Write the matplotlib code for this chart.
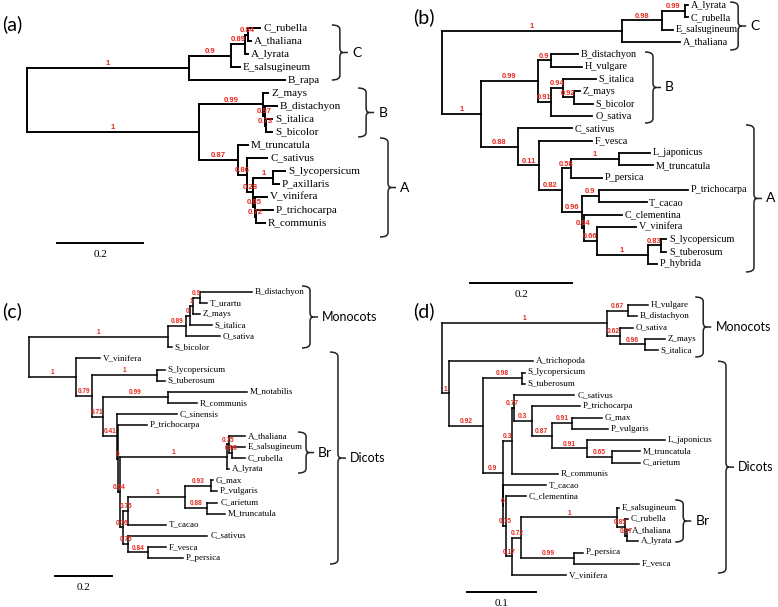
import matplotlib
matplotlib.use("Agg")
import matplotlib.pyplot as plt
from matplotlib.path import Path
from matplotlib.patches import PathPatch

W, H = 778, 607
RED = "#e8281e"

# trees: newick with support values on inner nodes
tree_a = ("(((((C_rubella:0.028,A_thaliana:0.007)0.84:0.007,A_lyrata:0.007)0.89:0.033,"
          "E_salsugineum:0.021)0.9:0.098,B_rapa:0.223)1:0.377,"
          "((Z_mays:0.012,(B_distachyon:0.028,(S_italica:0.014,S_bicolor:0.014)0.73:0.002)0.97:0.005)0.99:0.149,"
          "(M_truncatula:0.023,(C_sativus:0.047,((S_lycopersicum:0.028,P_axillaris:0.012)1:0.047,"
          "(V_vinifera:0.028,(P_trichocarpa:0.04,R_communis:0.021)0.72:0.002)0.85:0.005)0.28:0.014)0.86:0.021)0.87:0.091)1:0.4);")

tree_b = ("((((A_lyrata:0.006,C_rubella:0.006)0.99:0.045,E_salsugineum:0.022)0.98:0.078,A_thaliana:0.114)1:0.353,"
          "(((B_distachyon:0.053,H_vulgare:0.061)0.9:0.025,((S_italica:0.065,(Z_mays:0.012,S_bicolor:0.037)0.92:0.022)0.94:0.024,"
          "O_sativa:0.082)0.91:0.025)0.99:0.112,"
          "(C_sativus:0.106,(F_vesca:0.104,(((L_japonicus:0.061,M_truncatula:0.067)1:0.094,P_persica:0.061)0.58:0.018,"
          "((P_trichocarpa:0.175,T_cacao:0.094)0.9:0.033,(C_clementina:0.075,(V_vinifera:0.078,"
          "((S_lycopersicum:0.01,S_tuberosum:0.01)0.83:0.027,P_hybrida:0.018)1:0.1)0.66:0.025)0.84:0.004)0.96:0.039)0.82:0.045)"
          "0.11:0.041)0.88:0.073)1:0.076);")

tree_c = ("((((((B_distachyon:0.182,T_urartu:0.025)0.9:0.025,Z_mays:0.025)1:0.011,S_italica:0.077)0:0.014,"
          "O_sativa:0.119)0.89:0.063,S_bicolor:0.014)1:0.488,"
          "(V_vinifera:0.084,((S_lycopersicum:0.028,S_tuberosum:0.028)1:0.228,((M_notabilis:0.277,R_communis:0.102)0.99:0.228,"
          "(C_sinensis:0.211,(P_trichocarpa:0.102,(((A_thaliana:0.056,(E_salsugineum:0.046,C_rubella:0.046)0.98:0.011)0.75:0.007,"
          "A_lyrata:0.007)1:0.375,((((G_max:0.007,P_vulgaris:0.021)0.93:0.088,(C_arietum:0.035,M_truncatula:0.063)0.88:0.077)1:0.2,"
          "T_cacao:0.133)0.75:0.018,(C_sativus:0.277,(F_vesca:0.063,P_persica:0.126)0.84:0.067)0.75:0.018)0.76:0.011)0.64:0.007)"
          "0:0.004)0.41:0.049)0.71:0.039)0.79:0.056)1:0.165);")

tree_d = ("(((H_vulgare:0.029,B_distachyon:0.014)0.67:0.030,(O_sativa:0.019,(Z_mays:0.029,S_italica:0.019)0.96:0.036)0.62:0.019)1:0.239,"
          "(A_trichopoda:0.122,((S_lycopersicum:0.004,S_tuberosum:0.004)0.98:0.057,"
          "(((C_sativus:0.088,(P_trichocarpa:0.070,((G_max:0.043,P_vulgaris:0.051)0.91:0.030,"
          "(L_japonicus:0.113,(M_truncatula:0.041,C_arietum:0.041)0.65:0.036)0.91:0.051)0.87:0.029)0.3:0.026)0.77:0.003,"
          "R_communis:0.067)0.3:0.013,"
          "(T_cacao:0.062,(C_clementina:0.029,(((E_salsugineum:0.003,(C_rubella:0.004,(A_thaliana:0.003,A_lyrata:0.016)0.97:0.003)0.85:0.012)1:0.138,"
          "(P_persica:0.012,F_vesca:0.094)0.99:0.077)0.72:0.013,V_vinifera:0.078)0.17:0.009)0.75:0.004)0:0.001)0.9:0.029)0.92:0.049)1:0.010);")

# clade brackets: label, first leaf, last leaf, pad above, pad below
groups_a = [("C", "C_rubella", "B_rapa", 0.23, 0.0),
            ("B", "Z_mays", "S_bicolor", 0.38, 0.38),
            ("A", "M_truncatula", "R_communis", 0.54, 1.08)]
groups_b = [("C", "A_lyrata", "A_thaliana", 0.24, 0.65),
            ("B", "B_distachyon", "O_sativa", 0.19, 0.57),
            ("A", "C_sativus", "P_hybrida", 0.27, 0.65)]
groups_c = [("Monocots", "B_distachyon", "S_bicolor", 0.54, 0.05),
            ("Br", "A_thaliana", "A_lyrata", 0.36, 0.34),
            ("Dicots", "V_vinifera", "P_persica", 0.58, 0.55)]
groups_d = [("Monocots", "H_vulgare", "S_italica", 0.71, 0.62),
            ("Dicots", "A_trichopoda", "V_vinifera", 0.0, -0.18),
            ("Br", "E_salsugineum", "A_lyrata", 0.67, 0.07)]


def parse_newick(s):
    s = s.strip().rstrip(";")
    pos = 0

    def node():
        nonlocal pos
        n = {"children": [], "name": "", "support": "", "length": 0.0}
        if s[pos] == "(":
            pos += 1
            while True:
                n["children"].append(node())
                if s[pos] == ",":
                    pos += 1
                    continue
                pos += 1
                break
        start = pos
        while pos < len(s) and s[pos] not in ",():":
            pos += 1
        label = s[start:pos]
        if n["children"]:
            n["support"] = label
        else:
            n["name"] = label
        if pos < len(s) and s[pos] == ":":
            pos += 1
            start = pos
            while pos < len(s) and s[pos] not in ",()":
                pos += 1
            n["length"] = float(s[start:pos])
        return n
    return node()


def layout(n, x0, leaves):
    n["x"] = x0 + n["length"]
    if not n["children"]:
        n["y"] = len(leaves)
        leaves.append(n)
        return
    for c in n["children"]:
        layout(c, n["x"], leaves)
    n["y"] = (n["children"][0]["y"] + n["children"][-1]["y"]) / 2


def draw_tree(ax, n, lw, fs_leaf, fs_sup):
    if not n["children"]:
        ax.annotate(n["name"], (n["x"], n["y"]), xytext=(2, 0), textcoords="offset points",
                    ha="left", va="center", fontsize=fs_leaf, family="Liberation Serif")
        return
    ys = [c["y"] for c in n["children"]]
    ax.plot([n["x"], n["x"]], [min(ys), max(ys)], color="black", lw=lw, solid_capstyle="projecting")
    for c in n["children"]:
        ax.plot([n["x"], c["x"]], [c["y"], c["y"]], color="black", lw=lw, solid_capstyle="projecting")
        if c["support"]:
            ax.annotate(c["support"], ((n["x"] + c["x"]) / 2, c["y"]), xytext=(0, 0.6),
                        textcoords="offset points", ha="center", va="bottom", color=RED,
                        fontsize=fs_sup, fontweight="bold", family="Liberation Sans")
        draw_tree(ax, c, lw, fs_leaf, fs_sup)


def brace(ax, x, top, bot, label, s, dy, fs):
    w = 8.0 / s
    t1 = 3.0 / s
    t = 8.0 / s
    r = 4.5 / dy
    m = (top + bot) / 2
    verts = [(x, top), (x + w, top), (x + w, top + r), (x + w, m - r), (x + w, m), (x + w + t1, m),
             (x + w + t, m), (x + w + t1, m), (x + w, m), (x + w, m + r),
             (x + w, bot - r), (x + w, bot), (x, bot)]
    codes = [Path.MOVETO, Path.CURVE3, Path.CURVE3, Path.LINETO, Path.CURVE3, Path.CURVE3,
             Path.LINETO, Path.MOVETO, Path.CURVE3, Path.CURVE3,
             Path.LINETO, Path.CURVE3, Path.CURVE3]
    ax.add_patch(PathPatch(Path(verts, codes), fill=False, lw=1.1, edgecolor="#222222"))
    ax.annotate(label, (x + w + t, m), xytext=(3, 0), textcoords="offset points",
                ha="left", va="center", fontsize=fs if len(label) > 2 else fs + 1, family="Lato")


# placement of each panel on the page (pixels) and its scale (pixels per unit)
panels = [
    dict(tree=tree_a, groups=groups_a, x0=27, s=430, y0=28, dy=13.0, lw=1.4, fs_leaf=8.0, fs_sup=5.6,
         brace_x=[0.709, 0.770, 0.821], fs_grp=9, bar=(0.07, 16.54, 0.2), letter="(a)", letter_xy=(12, 24)),
    dict(tree=tree_b, groups=groups_b, x0=442, s=510, y0=5, dy=12.33, lw=1.3, fs_leaf=7.3, fs_sup=5.4,
         brace_x=[0.565, 0.398, 0.596], fs_grp=9, bar=(0.055, 22.55, 0.2), letter="(b)", letter_xy=(424, 17)),
    dict(tree=tree_c, groups=groups_c, x0=29, s=285, y0=292, dy=11.08, lw=1.1, fs_leaf=6.5, fs_sup=4.7,
         brace_x=[0.958, 0.944, 1.056], fs_grp=9, bar=(0.091, 25.6, 0.2), letter="(c)", letter_xy=(12, 311)),
    dict(tree=tree_d, groups=groups_d, x0=442, s=690, y0=305, dy=11.25, lw=1.1, fs_leaf=6.5, fs_sup=4.8,
         brace_x=[0.367, 0.400, 0.338], fs_grp=9, bar=(0.036, 25.5, 0.1), letter="(d)", letter_xy=(424, 311)),
]

fig = plt.figure(figsize=(W / 100, H / 100), dpi=100)

for p in panels:
    ax = fig.add_axes([0, 0, 1, 1])
    ax.set_xlim(-p["x0"] / p["s"], (W - p["x0"]) / p["s"])
    ax.set_ylim((H - p["y0"]) / p["dy"], -p["y0"] / p["dy"])
    ax.axis("off")
    ax.patch.set_visible(False)

    root = parse_newick(p["tree"])
    leaves = []
    layout(root, 0.0, leaves)
    idx = {lf["name"]: lf["y"] for lf in leaves}
    draw_tree(ax, root, p["lw"], p["fs_leaf"], p["fs_sup"])

    for (label, first, last, pt, pb), bx in zip(p["groups"], p["brace_x"]):
        brace(ax, bx, idx[first] - pt, idx[last] + pb, label, p["s"], p["dy"], p["fs_grp"])

    bx0, by, blen = p["bar"]
    ax.plot([bx0, bx0 + blen], [by, by], color="black", lw=1.4)
    ax.annotate(str(blen), (bx0 + blen / 2, by), xytext=(0, -5), textcoords="offset points",
                ha="center", va="top", fontsize=8, family="Liberation Serif")

    lx, ly = p["letter_xy"]
    fig.text(lx / W, 1 - ly / H, p["letter"], ha="center", va="center", fontsize=14, family="Lato")

fig.savefig("out.png", dpi=100)
